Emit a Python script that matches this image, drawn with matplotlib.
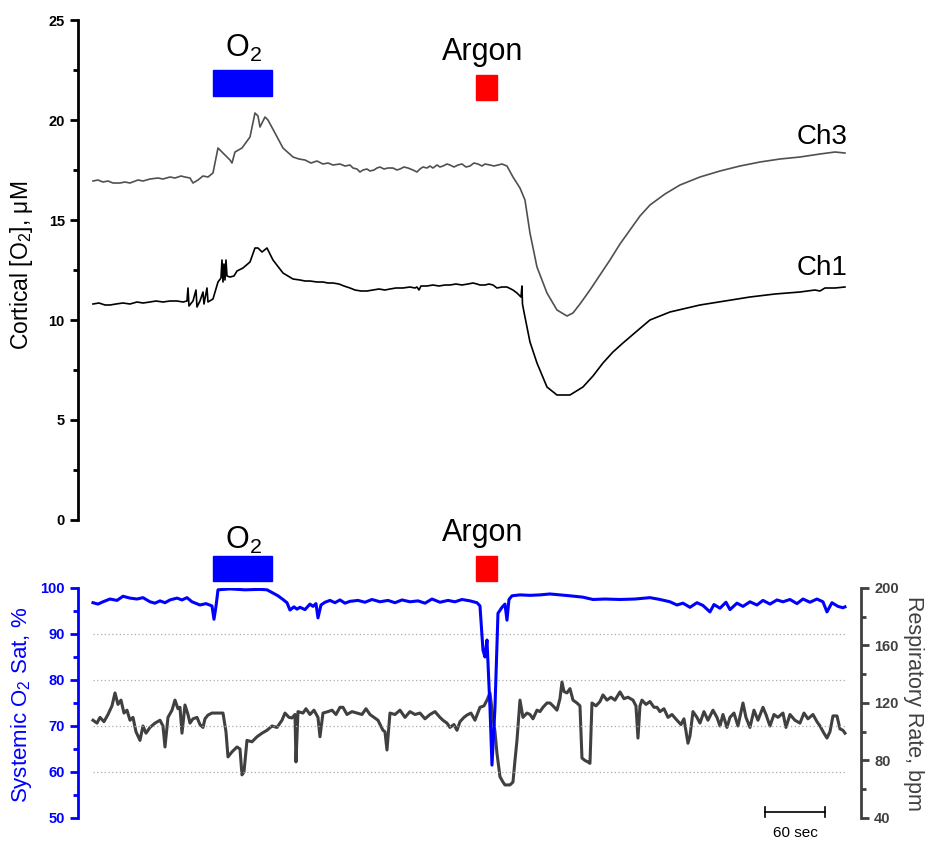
import numpy as np
import matplotlib.pyplot as plt
from matplotlib.patches import Rectangle
from matplotlib.ticker import MultipleLocator

plt.rcParams['font.family'] = ['Liberation Sans', 'DejaVu Sans']
plt.rcParams['mathtext.default'] = 'regular'

# time in seconds, cortical O2 traces (uM)
ch3_t = [0, 5, 10, 15, 20, 27, 32, 37, 45, 50, 57, 65, 70, 77, 82, 88, 92, 97, 100, 105, 110, 115, 120, 125, 131,
         137, 139, 142, 149, 157, 162, 165, 167, 172, 175, 182, 190, 200, 206, 212, 218, 224, 230, 235, 240, 247,
         252, 257, 260, 264, 267, 270, 274, 277, 281, 284, 287, 291, 295, 300, 304, 307, 311, 315, 320, 324, 327,
         330, 334, 337, 340, 344, 347, 350, 354, 357, 361, 365, 369, 373, 377, 381, 385, 389, 392, 397, 401, 405,
         409, 414, 420, 427, 432, 437, 444, 454, 464, 474, 480, 487, 497, 507, 517, 527, 537, 547, 557, 572, 587,
         607, 627, 647, 667, 687, 707, 727, 742, 752]
ch3_v = [16.95, 17.0, 16.9, 16.95, 16.85, 16.85, 16.9, 16.85, 17.0, 16.95, 17.05, 17.1, 17.05, 17.15, 17.1, 17.2,
         17.15, 17.1, 16.85, 17.0, 17.2, 17.15, 17.35, 18.6, 18.3, 18.0, 17.85, 18.4, 18.6, 19.15, 20.35, 20.2,
         19.65, 20.15, 20.0, 19.35, 18.6, 18.15, 18.05, 18.0, 17.85, 17.95, 17.8, 17.85, 17.75, 17.8, 17.7, 17.75,
         17.6, 17.55, 17.4, 17.5, 17.55, 17.45, 17.5, 17.6, 17.65, 17.55, 17.6, 17.6, 17.5, 17.55, 17.65, 17.6,
         17.5, 17.4, 17.55, 17.65, 17.6, 17.7, 17.6, 17.75, 17.65, 17.7, 17.8, 17.75, 17.65, 17.75, 17.8, 17.65,
         17.7, 17.85, 17.8, 17.7, 17.8, 17.75, 17.7, 17.75, 17.8, 17.7, 17.15, 16.6, 16.0, 14.35, 12.65, 11.35,
         10.5, 10.2, 10.35, 10.8, 11.5, 12.25, 13.0, 13.8, 14.5, 15.2, 15.75, 16.3, 16.75, 17.15, 17.45, 17.7,
         17.9, 18.05, 18.15, 18.3, 18.4, 18.35]

ch1_t = [0, 6, 12, 17, 23, 30, 37, 44, 50, 57, 63, 70, 77, 84, 90, 94, 95, 96, 100, 103, 104, 107, 110, 111, 114,
         115, 120, 125, 128, 129, 130, 131, 132, 133, 134, 137, 141, 144, 150, 157, 162, 165, 169, 174, 180, 190,
         200, 207, 212, 217, 224, 230, 235, 240, 246, 251, 257, 262, 268, 274, 280, 286, 292, 297, 303, 310, 317,
         322, 324, 326, 328, 334, 340, 346, 352, 357, 363, 369, 375, 380, 384, 387, 392, 396, 400, 404, 409, 414,
         420, 424, 428, 429, 429.5, 431, 437, 444, 454, 464, 477, 490, 500, 510, 520, 530, 544, 557, 577, 607, 632,
         657, 682, 707, 722, 727, 732, 742, 752]
ch1_v = [10.8, 10.85, 10.75, 10.75, 10.8, 10.85, 10.8, 10.9, 10.85, 10.9, 10.95, 10.9, 10.95, 10.95, 10.9, 10.95,
         11.6, 10.7, 10.95, 11.5, 10.65, 10.95, 11.4, 10.8, 11.6, 10.9, 11.05, 11.9, 12.1, 13.0, 11.9, 12.8, 12.0,
         13.0, 12.2, 12.15, 12.2, 12.45, 12.6, 12.9, 13.6, 13.6, 13.4, 13.6, 13.0, 12.35, 12.05, 12.0, 11.95,
         11.95, 11.9, 11.9, 11.85, 11.85, 11.8, 11.7, 11.6, 11.5, 11.45, 11.45, 11.5, 11.55, 11.5, 11.55, 11.6,
         11.6, 11.65, 11.6, 11.65, 11.5, 11.7, 11.7, 11.75, 11.7, 11.75, 11.75, 11.8, 11.75, 11.8, 11.85, 11.8,
         11.75, 11.75, 11.8, 11.75, 11.6, 11.65, 11.65, 11.5, 11.35, 11.15, 11.7, 10.8, 10.4, 8.9, 7.85, 6.65,
         6.25, 6.25, 6.65, 7.2, 7.85, 8.4, 8.85, 9.45, 10.0, 10.4, 10.75, 10.95, 11.15, 11.3, 11.4, 11.5, 11.45,
         11.6, 11.6, 11.65]

# systemic O2 saturation (%)
spo2_t = [0, 5, 10, 17, 24, 30, 37, 44, 50, 57, 62, 67, 72, 77, 84, 89, 94, 99, 107, 113, 119, 121, 123, 125, 137,
          152, 167, 174, 180, 185, 190, 194, 197, 201, 204, 207, 212, 217, 220, 223, 225, 228, 232, 237, 242, 247,
          252, 257, 265, 272, 279, 287, 295, 302, 309, 317, 325, 332, 339, 347, 355, 362, 369, 377, 384, 387, 390,
          392, 394, 397, 399, 402, 405, 409, 412, 414, 416, 419, 427, 437, 447, 457, 467, 477, 490, 500, 512, 527,
          542, 557, 567, 577, 584, 590, 597, 604, 610, 617, 621, 627, 633, 637, 644, 650, 657, 664, 670, 677, 684,
          690, 697, 704, 710, 717, 724, 730, 734, 739, 745, 750, 752]
spo2_v = [96.8, 96.5, 97.0, 97.6, 97.3, 98.2, 97.8, 97.6, 97.9, 97.0, 96.7, 97.2, 96.8, 97.4, 97.8, 97.4, 97.9,
          97.0, 96.3, 96.6, 96.1, 93.2, 96.0, 99.6, 99.8, 99.6, 99.7, 99.6, 98.9, 98.3, 97.5, 96.8, 95.2, 95.9,
          95.4, 95.8, 95.3, 96.5, 96.0, 96.6, 93.5, 96.3, 96.9, 97.3, 96.8, 97.4, 96.7, 97.1, 97.3, 96.9, 97.5,
          97.0, 97.3, 96.8, 97.4, 97.0, 97.2, 96.7, 97.6, 96.9, 97.3, 97.0, 97.5, 97.2, 96.8, 96.1, 86.5, 85.0,
          88.7, 74.0, 61.5, 74.0, 94.5, 95.8, 96.5, 93.0, 97.5, 98.3, 98.5, 98.4, 98.5, 98.7, 98.5, 98.3, 98.0,
          97.5, 97.6, 97.5, 97.6, 97.9, 97.5, 97.0, 96.3, 96.7, 95.8, 96.8, 96.2, 94.8, 96.4, 95.6, 96.9, 95.3,
          96.7, 96.0, 97.0, 96.3, 97.3, 96.5, 97.4, 97.0, 97.5, 96.6, 97.6, 96.9, 97.6, 97.0, 94.8, 96.8, 96.0,
          95.7, 95.9]

# respiratory rate (bpm)
rr_t = [0, 4, 7, 11, 15, 19, 22, 25, 28, 31, 34, 37, 40, 43, 47, 50, 53, 57, 62, 67, 70, 72, 75, 79, 82, 85, 87,
        89, 92, 95, 97, 100, 104, 107, 110, 112, 115, 119, 124, 130, 133, 135, 139, 144, 147, 149, 151, 154, 159,
        164, 169, 174, 179, 184, 189, 192, 196, 199, 202, 203, 205, 210, 213, 217, 221, 225, 227, 230, 235, 239,
        243, 247, 250, 254, 259, 264, 269, 273, 277, 281, 285, 290, 292, 294, 297, 302, 307, 312, 317, 322, 327,
        332, 337, 342, 347, 350, 354, 357, 361, 364, 367, 371, 374, 378, 382, 387, 391, 394, 397, 400, 402, 404,
        407, 410, 412, 417, 420, 422, 424, 427, 430, 434, 437, 440, 444, 447, 450, 454, 457, 460, 464, 467, 469,
        471, 474, 477, 480, 484, 487, 489, 492, 495, 497, 499, 503, 507, 510, 514, 518, 522, 527, 531, 535, 540,
        543, 545, 547, 549, 553, 557, 561, 564, 567, 571, 575, 579, 584, 588, 591, 595, 597, 600, 604, 607, 611,
        615, 620, 624, 627, 630, 634, 637, 641, 645, 650, 653, 657, 661, 665, 670, 673, 677, 681, 685, 690, 693,
        697, 702, 707, 711, 715, 720, 724, 727, 731, 734, 737, 740, 744, 747, 750, 752]
rr_v = [108, 106, 110, 107, 112, 118, 127, 119, 122, 113, 115, 108, 110, 100, 94, 104, 99, 103, 106, 108, 104,
        89.4, 110, 115, 122, 116, 117, 99, 118.6, 112, 106, 109, 110, 105, 103, 109, 111.6, 113, 113, 113, 100,
        82.5, 86, 89.4, 88, 70, 72, 94, 93, 96.5, 99, 101, 104, 103, 108, 113, 110, 109.6, 112, 79, 114, 113, 116,
        112, 115, 110, 96.5, 113, 114, 115, 112, 117, 117, 112, 114, 113, 112, 116, 112, 110, 108, 101, 100, 87.3,
        113, 112, 115, 110, 114, 112, 113, 109, 112, 114, 110, 108, 106, 103, 105, 101, 107, 110, 111.6, 113, 108,
        117, 118, 122, 127, 110, 100, 85, 68.7, 65, 63, 63, 65, 80, 94, 122, 110, 113, 112, 109, 115, 114, 117,
        120, 120, 118, 115, 123, 134.6, 128, 127, 130, 122, 120, 118, 81.7, 80, 79, 78, 120, 118, 121, 125.6, 122,
        124, 122, 127.7, 123, 124, 122, 118, 95.6, 118, 122, 119, 121, 117, 117, 114, 116, 110, 112, 108, 105, 109,
        92, 97, 114, 110, 106, 114, 108, 115, 110, 104, 112, 103, 110, 113, 104, 120, 110, 103, 115, 108, 117, 112,
        104, 112, 110, 113, 103, 112, 108, 106, 113, 109, 112, 107, 104, 99, 95.6, 100, 111, 111, 102, 101, 99]

o2_on = (120, 179)
argon_on = (383, 404)

fig = plt.figure(figsize=(9.34, 8.41), dpi=100)
xlim = (-15, 768)

# top panel: cortical O2
ax = fig.add_axes([0.0835, 0.3817, 0.8383, 0.5945])
ax.plot(ch3_t, ch3_v, color='#505050', lw=1.2)
ax.plot(ch1_t, ch1_v, color='black', lw=1.2)
ax.set_xlim(xlim)
ax.set_ylim(0, 25)
for s in ['top', 'right', 'bottom']:
    ax.spines[s].set_visible(False)
ax.spines['left'].set_linewidth(2)
ax.set_xticks([])
ax.yaxis.set_major_locator(MultipleLocator(5))
ax.yaxis.set_minor_locator(MultipleLocator(2.5))
ax.tick_params(axis='y', which='major', length=6, width=2, labelsize=10.5)
ax.tick_params(axis='y', which='minor', length=3.5, width=2)
for lb in ax.get_yticklabels():
    lb.set_fontweight('bold')
ax.set_ylabel('Cortical [O$_2$], μM', fontsize=16.5)
ax.yaxis.set_label_coords(-0.055, 0.51)

ax.text(150, 23.6, 'O$_2$', fontsize=22, ha='center', va='center')
ax.text(390, 23.4, 'Argon', fontsize=22, ha='center', va='center')
ax.add_patch(Rectangle((o2_on[0], 21.2), o2_on[1] - o2_on[0], 1.3, color='#0000ff', clip_on=False))
ax.add_patch(Rectangle((argon_on[0], 21.0), argon_on[1] - argon_on[0], 1.25, color='#ff0000', clip_on=False))
ax.text(704, 19.15, 'Ch3', fontsize=20, ha='left', va='center')
ax.text(704, 12.6, 'Ch1', fontsize=20, ha='left', va='center')

# bottom panel: SpO2 and respiratory rate
axb = fig.add_axes([0.0835, 0.02735, 0.8383, 0.2735])
axr = axb.twinx()
axb.set_zorder(axr.get_zorder() + 1)
axb.patch.set_visible(False)

axr.plot(rr_t, rr_v, color='#404040', lw=2.2)
axb.hlines([60, 70, 80, 90], 0, 752, colors='#aaaaaa', linestyles=(0, (1, 2)), lw=0.9)
axb.plot(spo2_t, spo2_v, color='#0000ff', lw=2.2)

axb.set_xlim(xlim)
axr.set_xlim(xlim)
axb.set_ylim(50, 100)
axr.set_ylim(40, 200)
for a in (axb, axr):
    for s in ['top', 'bottom']:
        a.spines[s].set_visible(False)
    a.set_xticks([])
axb.spines['right'].set_visible(False)
axr.spines['left'].set_visible(False)
axb.spines['left'].set_color('#0000ff')
axb.spines['left'].set_linewidth(2)
axr.spines['right'].set_color('#404040')
axr.spines['right'].set_linewidth(2)

axb.yaxis.set_major_locator(MultipleLocator(10))
axb.yaxis.set_minor_locator(MultipleLocator(5))
axb.tick_params(axis='y', which='major', length=6, width=2, colors='#0000ff', labelsize=10.5)
axb.tick_params(axis='y', which='minor', length=3.5, width=2, colors='#0000ff')
axr.yaxis.set_major_locator(MultipleLocator(40))
axr.yaxis.set_minor_locator(MultipleLocator(20))
axr.tick_params(axis='y', which='major', length=6, width=2, colors='#404040', labelsize=10.5)
axr.tick_params(axis='y', which='minor', length=3.5, width=2, colors='#404040')
for lb in axb.get_yticklabels() + axr.get_yticklabels():
    lb.set_fontweight('bold')

axb.set_ylabel('Systemic O$_2$ Sat, %', fontsize=16, color='#0000ff')
axb.yaxis.set_label_coords(-0.056, 0.49)
axr.set_ylabel('Respiratory Rate, bpm', fontsize=15.5, color='#404040', rotation=270, va='bottom')
axr.yaxis.set_label_coords(1.054, 0.5)

axb.text(150, 110.4, 'O$_2$', fontsize=22, ha='center', va='center', clip_on=False)
axb.text(390, 112, 'Argon', fontsize=22, ha='center', va='center', clip_on=False)
axb.add_patch(Rectangle((o2_on[0], 101.5), o2_on[1] - o2_on[0], 5.5, color='#0000ff', clip_on=False))
axb.add_patch(Rectangle((argon_on[0], 101.5), argon_on[1] - argon_on[0], 5.5, color='#ff0000', clip_on=False))

# 60 sec scale bar
axb.plot([672, 732], [51.3, 51.3], color='black', lw=1.2)
axb.plot([672, 672], [50.3, 52.3], color='black', lw=1.2)
axb.plot([732, 732], [50.3, 52.3], color='black', lw=1.2)
axb.text(702, 46.7, '60 sec', fontsize=11, ha='center', va='center', clip_on=False)

fig.savefig('out.png', dpi=100)
